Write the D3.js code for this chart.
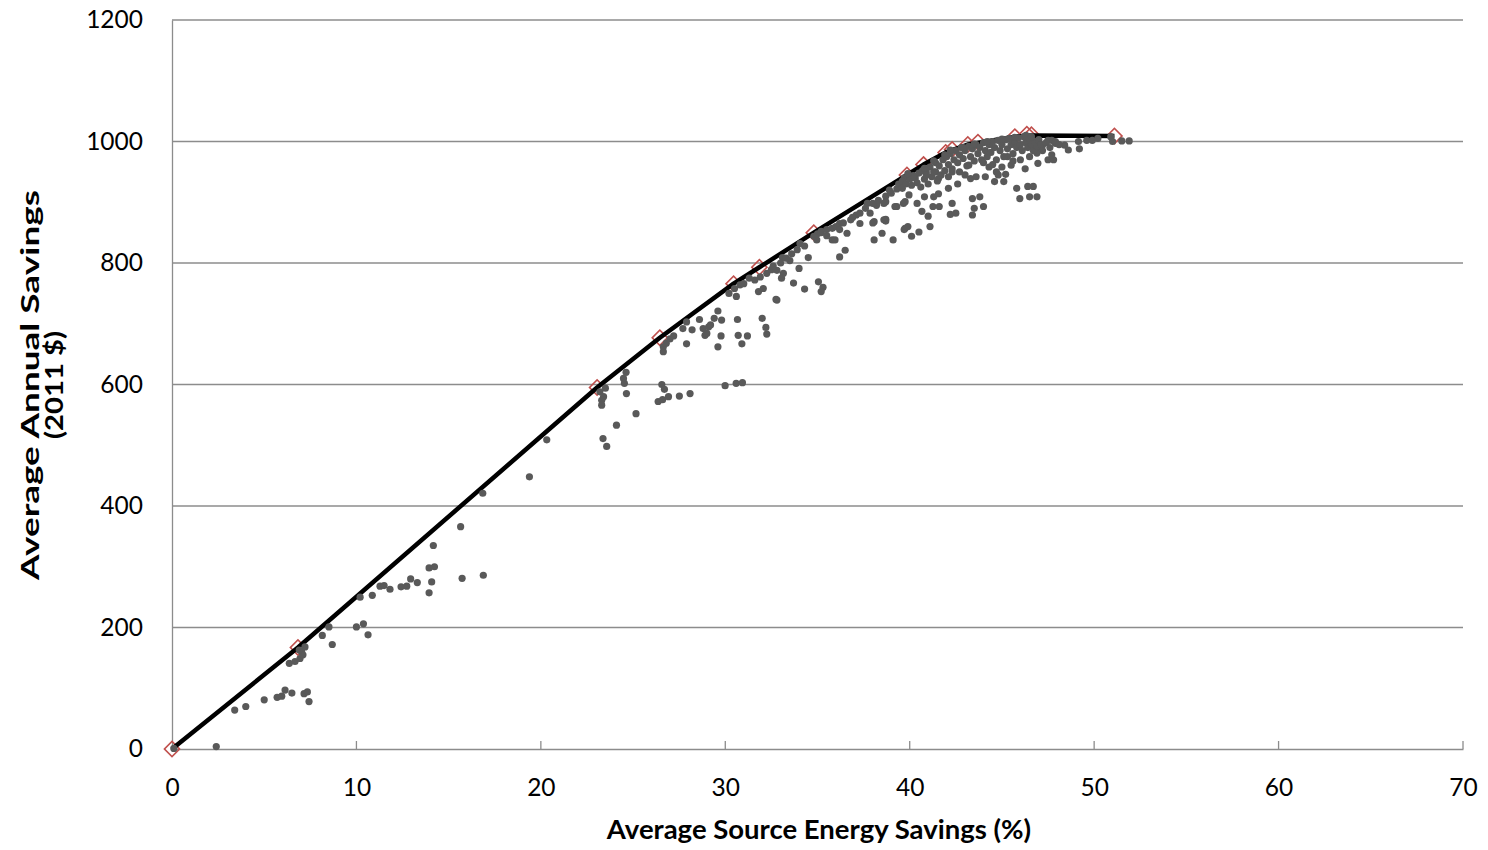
<!DOCTYPE html>
<html><head><meta charset="utf-8">
<script src="https://cdn.jsdelivr.net/npm/d3@7"></script>
<style>
body{margin:0;background:#fff;}
text{font-family:Lato,"Open Sans",sans-serif;fill:#000;}
</style></head>
<body><svg id="chart" width="1488" height="850"></svg>
<script>
// Frontier (least-cost curve) points
const frontierX = [0, 6.83, 23.05, 26.45, 30.45, 31.85, 34.8, 39.85, 40.75, 41.95, 42.3, 43.15, 43.7, 45.7, 46.35, 46.6, 51.1];
const frontierY = [0, 167, 595, 677, 766, 793, 850, 945, 962, 982, 987, 995, 999, 1008, 1012, 1011, 1009];
// frontier line vertices
const lineX = [0, 6.83, 23.05, 26.45, 30.45, 31.85, 34.8, 39.85, 40.75, 41.95, 43.15, 45.7, 46.6, 51.1];
const lineY = [0, 167, 595, 677, 766, 793, 850, 945, 962, 982, 995, 1008, 1010, 1009];
// scattered simulation points [energy savings %, annual savings $]
const scatter = [
[0.1,1],[2.4,4],[3.4,64],[4.0,70],[5.0,81],[5.7,85],[5.95,87],[6.13,97],[6.5,92],[7.16,91],[7.34,94],[7.43,78],
[6.36,141],[6.67,144],[6.94,149],[7.03,160],[7.21,168],[7.1,155],[6.9,163],[8.15,187],[8.69,172],[8.51,201],[10.0,201],[10.38,206],[10.63,188],
[10.2,250],[10.86,253],[11.28,268],[11.5,269],[11.82,263],[12.42,267],[12.73,268],[12.94,280],[13.3,274],[14.08,275],[13.94,257],[13.94,298],[14.23,300],[14.17,335],[15.65,366],[15.73,281],[16.88,286],[16.85,421],[19.38,448],[20.32,509],
[23.37,511],[23.57,498],[24.1,533],[25.16,552],[23.3,574],[23.2,588],[23.5,594],[23.4,580],[23.3,566],[24.62,620],[24.48,610],[24.53,602],[24.64,585],
[26.56,600],[26.7,592],[26.36,572],[26.6,575],[26.92,580],[27.51,581],[28.09,585],[29.99,598],[30.59,602],[30.93,603],
[26.64,654],[26.64,662],[26.8,668],[27.0,675],[27.2,680],[27.9,667],[28.2,690],[27.7,692],[28.9,681],[29.1,695],[29.77,680],[29.6,662],[30.7,681],[30.9,667],[31.2,680],
[27.9,703],[28.6,707],[28.8,692],[29.0,684],[29.2,698],[29.4,709],[29.6,721],[29.8,706],[30.66,707],[32.0,709],[32.2,694],[32.25,683],
[30.2,750],[30.6,745],[30.8,764],[31.0,766],[30.5,758],[31.8,753],[32.06,758],[32.8,739],[31.9,777],[32.25,783],[32.5,789],[31.6,772],[31.3,775],
[34.96,838],[35.0,848],[34.8,844],[35.2,852],[34.05,832],[34.5,809],[33.5,804],[33.1,809],[32.8,788],[33.15,783],[33.05,775],[34.0,791],[33.7,767],[34.3,757],
[35.05,769],[35.3,760],[35.2,753],[32.75,740],[35.8,838],[35.95,838],[36.2,810],[36.5,821],[35.8,857],[36.2,865],[36.6,849],[36.8,871],[37.1,879],[37.3,865],
[37.85,882],[38.07,868],[38.7,872],[38.5,849],[38.07,838],[39.1,838],[39.75,857],[37.7,898],[38.2,895],[38.6,898],[39.3,893],[39.66,898],[38.0,866],[38.7,869],
[39.7,855],[39.9,860],[40.1,844],[40.5,851],[41.1,860],[33.3,808],[33.6,815],[33.9,822],[34.3,828],[32.6,795],[33.0,800],
[36.0,860],[36.4,866],[36.9,875],[37.3,882],[37.6,890],[38.0,898],[38.3,903],[38.7,910],[39.0,915],[39.3,922],[39.6,928],[38.9,920],[39.4,930],[39.7,940],
[35.2,850],[35.5,855],[35.5,845],[36.2,855],
[38.7,901],[39.2,893],[38.6,871],[41.0,877],[40.66,885],[41.26,893],[41.6,893],[42.3,898],[42.5,882],[42.2,880],[43.4,879],[43.5,890],[44.0,893],[43.8,909],[43.4,906],
[40.4,898],[40.8,909],[41.3,909],[41.56,914],[42.1,923],[39.96,912],[39.75,901],[39.6,923],[43.3,939],[43.6,942],[44.1,942],[43.2,961],[42.7,950],[42.1,942],[42.3,950],
[41.56,939],[41.4,950],[40.9,950],[44.3,958],[44.6,934],[45.1,934],[45.2,946],[44.7,950],[45.8,923],[45.97,906],[46.4,926],[46.7,926],[46.5,909],[46.9,909],
[46.26,955],[46.95,964],[47.5,970],[47.8,970],[47.7,978],[48.6,986],[48.4,994],[49.2,988],[49.15,1000],[49.6,1002],[49.9,1002],[50.2,1005],[50.9,1008],[51.0,1000],[51.5,1001],[51.9,1001],
[47.5,1002],[47.7,1002],[47.9,997],[47.2,994],[45.5,961],[45.3,975],[46.9,981],[46.9,990],
[39.6,935],[39.8,930],[40.0,938],[40.1,928],[40.3,940],[40.4,932],[40.5,948],[40.6,925],[40.7,952],[40.8,938],[40.9,945],[41.0,930],[41.1,958],[41.2,942],[41.3,950],
[41.4,965],[41.5,935],[41.6,960],[41.7,945],[41.8,970],[41.9,952],[42.0,975],[42.1,962],[42.2,980],[42.3,955],[42.4,970],[42.5,985],[42.6,965],[42.7,978],[42.8,990],
[42.9,972],[43.0,985],[43.1,960],[43.2,992],[43.3,975],[43.4,988],[43.5,968],[43.6,995],[43.7,980],[43.8,990],[43.9,970],[44.0,998],[44.1,985],[44.2,975],[44.3,995],
[44.4,982],[44.5,1000],[44.6,990],[44.7,970],[44.8,1002],[44.9,985],[45.0,995],[45.1,975],[45.2,1003],[45.3,988],[45.4,1005],[45.5,995],[45.6,980],[45.7,1000],[45.8,990],
[45.9,1006],[46.0,995],[46.1,985],[46.2,1008],[46.3,998],[46.4,990],[46.5,1005],[46.6,995],[46.7,985],[46.8,1000],[46.9,992],[47.0,1003],[47.1,995],[47.2,985],[47.4,998],
[47.6,990],[47.9,1000],[48.1,995],[44.5,962],[45.0,958],[44.0,965],[43.0,945],[42.6,930],[44.8,945],[46.0,970],[45.6,968],[46.5,975],
[41.9,978],[42.2,986],[42.9,990],[43.5,996],[44.2,1000],[45.0,1004],[45.7,1007],[46.3,1010],[46.6,1008],[40.2,944],[40.8,956],[41.3,968],[39.9,947]
];
const xTicks = [0,10,20,30,40,50,60,70];
const yTicks = [0,200,400,600,800,1000,1200];
const xTitle = "Average Source Energy Savings (%)";
const yTitle = ["Average Annual Savings", "(2011 $)"];

const svg = d3.select("#chart");
const L = 172, R = 1463, T = 20, B = 749;
const x = d3.scaleLinear().domain([0,70]).range([L,R]);
const y = d3.scaleLinear().domain([0,1200]).range([B,T]);

// gridlines
svg.append("g").selectAll("line").data(yTicks.filter(d=>d>0)).join("line")
  .attr("x1",L).attr("x2",R).attr("y1",d=>y(d)).attr("y2",d=>y(d))
  .attr("stroke","#8c8c8c").attr("stroke-width",1.3);

// axes
const xAxis = svg.append("g").attr("transform",`translate(0,${B})`)
  .call(d3.axisBottom(x).tickValues(xTicks).tickSize(0).tickPadding(30).tickFormat(d3.format("d")));
xAxis.select(".domain").attr("stroke","#8c8c8c").attr("stroke-width",1.3);
xAxis.selectAll("text").attr("font-size",24.5).attr("font-family","Lato");
svg.append("g").selectAll("line").data(xTicks.filter(d=>d>0)).join("line")
  .attr("x1",d=>x(d)).attr("x2",d=>x(d)).attr("y1",B-8).attr("y2",B)
  .attr("stroke","#8c8c8c").attr("stroke-width",1.3);

const yAxis = svg.append("g").attr("transform",`translate(${L},0)`)
  .call(d3.axisLeft(y).tickValues(yTicks).tickSize(0).tickPadding(29).tickFormat(d3.format("d")));
yAxis.select(".domain").attr("stroke","#8c8c8c").attr("stroke-width",1.3);
yAxis.selectAll("text").attr("font-size",24.5).attr("font-family","Lato");

// diamonds (frontier markers)
svg.append("g").selectAll("path").data(frontierX.map((d,i)=>[d,frontierY[i]])).join("path")
  .attr("d", d3.symbol().type(d3.symbolSquare).size(115))
  .attr("transform",d=>`translate(${x(d[0])},${y(d[1])}) rotate(45)`)
  .attr("fill","none").attr("stroke","#c0504d").attr("stroke-width",1.6);

// frontier line
svg.append("path").datum(lineX.map((d,i)=>[d,lineY[i]]))
  .attr("d", d3.line().x(d=>x(d[0])).y(d=>y(d[1])))
  .attr("fill","none").attr("stroke","#000").attr("stroke-width",4.5).attr("stroke-linejoin","round");

// scatter points
svg.append("g").selectAll("circle").data(scatter).join("circle")
  .attr("cx",d=>x(d[0])).attr("cy",d=>y(d[1])).attr("r",3.6).attr("fill","#595959");

// titles
svg.append("text").attr("x",819).attr("y",839).attr("text-anchor","middle")
  .attr("font-size",27.5).attr("font-weight","bold").text(xTitle);
const yt = svg.append("text").attr("transform",`translate(39,385) rotate(-90)`).attr("text-anchor","middle")
  .attr("font-size",24).attr("font-weight","bold");
yt.append("tspan").attr("x",0).attr("dy",0).attr("textLength",390).attr("lengthAdjust","spacingAndGlyphs").text(yTitle[0]);
yt.append("tspan").attr("x",0).attr("dy",24).attr("textLength",108).attr("lengthAdjust","spacingAndGlyphs").text(yTitle[1]);
</script></body></html>
